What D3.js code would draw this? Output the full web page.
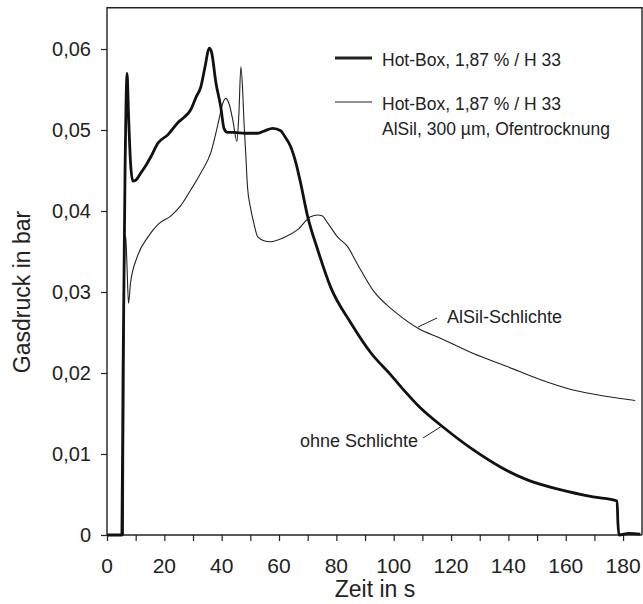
<!DOCTYPE html>
<html>
<head>
<meta charset="utf-8">
<script src="https://cdn.jsdelivr.net/npm/d3@7"></script>
<style>
  body { margin: 0; background: #fff; }
  svg { display: block; font-family: "Liberation Sans", Arial, sans-serif; }
</style>
</head>
<body>
<script>
/* Data: Gasdruck (bar) over Zeit (s) */

var timeThick = [0, 5.2, 5.6, 6.3, 7.0, 7.5, 8.2, 9.0, 10.0, 11.8, 13.5, 15.3, 17.8, 21.2, 24.7, 27, 29.2, 31, 32.7,
                 34.3, 35.6, 36.4, 38, 39.7, 40.8, 42, 44.2, 48, 52.6, 55, 57.8, 60.6, 62, 64, 66, 67.5, 70, 73.5, 78,
                 85, 92, 98.9, 104, 109, 117.3, 127.8, 137.2, 146.6, 158, 169.6, 177.9, 178.2, 178.6, 182, 186];
var pressThick = [0, 0, 0.02, 0.045, 0.057, 0.052, 0.046, 0.0437, 0.0438, 0.0447, 0.0456, 0.0467, 0.0484, 0.0494, 0.0509, 0.0516, 0.0525, 0.054, 0.0553,
                  0.058, 0.0601, 0.0597, 0.0558, 0.0528, 0.0502, 0.0497, 0.0497, 0.0496, 0.0496, 0.0499, 0.0502, 0.0499, 0.0492, 0.048, 0.0458, 0.0435, 0.0393, 0.0352, 0.0306,
                  0.0262, 0.0225, 0.0198, 0.0177, 0.0158, 0.0133, 0.0105, 0.0084, 0.0068, 0.0056, 0.0047, 0.0042, 0.0015, 0, 0.0002, 0.0001];

var timeThin = [0, 5.7, 6.0, 6.5, 7.0, 7.5, 8.2, 10.5, 14.3, 18, 22.3, 25.8, 29.2, 32.7, 36.2, 39,
                40.3, 41.4, 42.5, 43.9, 45.3, 46.0, 46.7, 47.3, 47.7, 48.4, 49, 50, 51.2, 52.6, 55, 57.1, 61.6, 66.5, 71, 73.5,
                75, 77, 80.4, 83.9, 87.4, 93, 98.9, 101.3, 108.6, 116.3, 127.8, 139.6, 151, 162.6, 174.4, 184.2];
var pressThin = [0, 0, 0.030, 0.037, 0.033, 0.0286, 0.0311, 0.0343, 0.0368, 0.0384, 0.0394, 0.0407, 0.0426, 0.0447, 0.0472, 0.0512,
                 0.0532, 0.0539, 0.0533, 0.0512, 0.0486, 0.052, 0.0578, 0.055, 0.0516, 0.047, 0.043, 0.0405, 0.0385, 0.0368, 0.0363, 0.0362, 0.0367, 0.0377, 0.0393, 0.0395,
                 0.0394, 0.0385, 0.0368, 0.0356, 0.0334, 0.0301, 0.0280, 0.0273, 0.0255, 0.0243, 0.0224, 0.0208, 0.0192, 0.0179, 0.0171, 0.0166];

var xTicks = d3.range(0, 181, 10),
    xLabels = d3.range(0, 181, 20),
    yTicks = [0, 0.01, 0.02, 0.03, 0.04, 0.05, 0.06];

var legendLabels = [["Hot-Box, 1,87 % / H 33"],
                    ["Hot-Box, 1,87 % / H 33", "AlSil, 300 \u00b5m, Ofentrocknung"]];

/* Measures */

var W = 643,
    H = 604;

var X_MIN = 0, X_MAX = 186.6,
    Y_TOP = 0.0651;

var svg = d3.select("body").append("svg")
    .attr("width", W)
    .attr("height", H);

var x = d3.scaleLinear().domain([X_MIN, X_MAX]).range([107, 642]);
var y = d3.scaleLinear().domain([0, 0.06]).range([535, 49]);

var fmtY = function(d) {
	return d === 0 ? "0" : d3.format(".2f")(d).replace(".", ",");
};

/* Frame */
var frame = svg.append("g").attr("stroke", "#222").attr("fill", "none");
frame.append("path")
	.attr("stroke-width", 1.4)
	.attr("d", "M" + x(0) + "," + y(0) + "V" + y(Y_TOP) + "H" + x(X_MAX) + "V" + y(0));

/* Axes */
var xAxis = svg.append("g")
	.attr("transform", "translate(0," + y(0) + ")")
	.call(d3.axisBottom(x).tickValues(xTicks).tickSize(6).tickFormat(""));
xAxis.select(".domain").attr("d", "M" + x(0) + ",0H" + x(X_MAX)).attr("stroke", "#222").attr("stroke-width", 1.4);
xAxis.selectAll(".tick line").attr("stroke", "#222").attr("stroke-width", 1.2);

svg.append("g").selectAll("text")
	.data(xLabels)
	.enter().append("text")
	.attr("x", function(d) { return x(d); })
	.attr("y", 573)
	.attr("text-anchor", "middle")
	.attr("font-size", 21)
	.attr("fill", "#222")
	.text(String);

var yAxis = svg.append("g")
	.attr("transform", "translate(" + x(0) + ",0)")
	.call(d3.axisLeft(y).tickValues(yTicks).tickSize(6).tickPadding(10).tickFormat(fmtY));
yAxis.select(".domain").remove();
yAxis.selectAll(".tick line").attr("stroke", "#222").attr("stroke-width", 1.2);
yAxis.selectAll(".tick text").attr("font-size", 20).attr("fill", "#222")
	.attr("font-family", "Liberation Sans, Arial, sans-serif");

svg.append("text")
	.attr("x", 375).attr("y", 597)
	.attr("text-anchor", "middle")
	.attr("font-size", 23)
	.attr("fill", "#222")
	.text("Zeit in s");

svg.append("text")
	.attr("transform", "translate(30,292) rotate(-90)")
	.attr("text-anchor", "middle")
	.attr("font-size", 23)
	.attr("fill", "#222")
	.text("Gasdruck in bar");

/* Curves */
var line = d3.line()
	.curve(d3.curveMonotoneX)
	.x(function(d) { return x(d[0]); })
	.y(function(d) { return y(d[1]); });

svg.append("path")
	.datum(d3.zip(timeThin, pressThin))
	.attr("fill", "none")
	.attr("stroke", "#222")
	.attr("stroke-width", 1.1)
	.attr("stroke-linejoin", "round")
	.attr("d", line);

svg.append("path")
	.datum(d3.zip(timeThick, pressThick))
	.attr("fill", "none")
	.attr("stroke", "#111")
	.attr("stroke-width", 2.8)
	.attr("stroke-linejoin", "round")
	.attr("d", line);

/* Legend */
var legend = svg.append("g").attr("fill", "#222").attr("font-size", 17.5);
var legendRows = legend.selectAll("g")
	.data(legendLabels)
	.enter().append("g")
	.attr("transform", function(d, i) { return "translate(335," + (58 + i * 44) + ")"; });
legendRows.append("line")
	.attr("x1", 0).attr("x2", 37)
	.attr("stroke", "#222")
	.attr("stroke-width", function(d, i) { return i === 0 ? 2.8 : 1.1; });
legendRows.selectAll("text")
	.data(function(d) { return d; })
	.enter().append("text")
	.attr("x", 47)
	.attr("y", function(d, i) { return 8 + i * 25; })
	.text(String);

/* Curve annotations */
var notes = svg.append("g").attr("fill", "#222").attr("font-size", 18);
notes.append("line")
	.attr("x1", 418).attr("y1", 327).attr("x2", 437).attr("y2", 318)
	.attr("stroke", "#222").attr("stroke-width", 1);
notes.append("text").attr("x", 447).attr("y", 323).text("AlSil-Schlichte");
notes.append("line")
	.attr("x1", 423).attr("y1", 438).attr("x2", 442).attr("y2", 426)
	.attr("stroke", "#222").attr("stroke-width", 1);
notes.append("text").attr("x", 300).attr("y", 447).text("ohne Schlichte");
</script>
</body>
</html>
